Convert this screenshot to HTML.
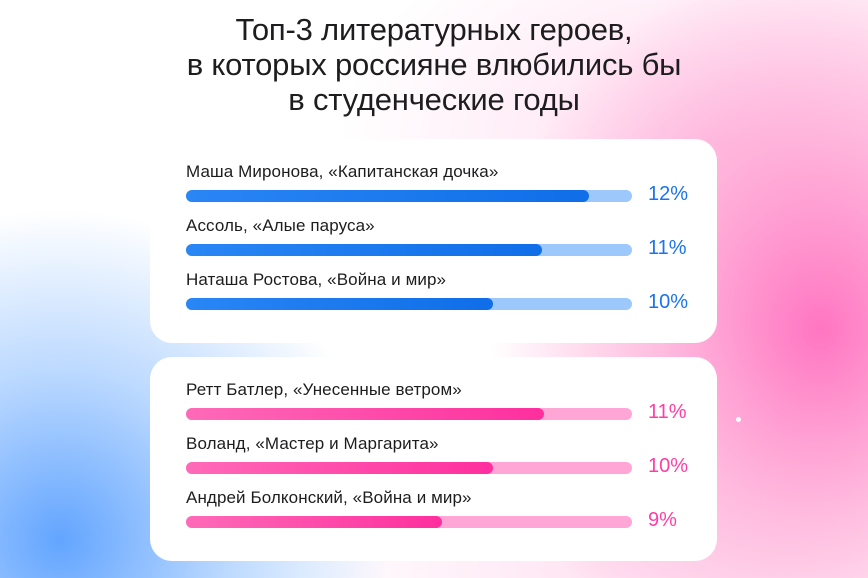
<!DOCTYPE html>
<html><head><meta charset="utf-8"><style>
html,body{margin:0;padding:0}
body{width:868px;height:578px;position:relative;overflow:hidden;font-family:"Liberation Sans","Noto Sans CJK SC",sans-serif;
background:
radial-gradient(ellipse 330px 380px at 820px 330px, rgba(255,110,190,0.95), rgba(255,140,200,0.55) 50%, rgba(255,200,230,0) 100%),
radial-gradient(ellipse 330px 330px at 60px 540px, rgba(90,160,255,0.95), rgba(140,190,255,0.6) 50%, rgba(200,225,255,0) 100%),
radial-gradient(ellipse 380px 240px at 720px 140px, rgba(255,200,230,0.65), rgba(255,255,255,0) 100%),
radial-gradient(ellipse 300px 200px at 600px 560px, rgba(255,200,230,0.5), rgba(255,255,255,0) 100%),
#fff;}
.title{position:absolute;left:0;width:868px;top:12px;text-align:center;font-size:31px;line-height:35px;color:#1d1d1f;letter-spacing:-0.2px}
.card{position:absolute;left:150px;width:567px;height:204px;background:#fff;border-radius:22px}
.lab{position:absolute;left:186px;font-size:17px;color:#1d1d1f;letter-spacing:0.1px}
.track{position:absolute;left:186px;width:446px;height:12px;border-radius:6px}
.fill{position:absolute;left:0;top:0;height:12px;border-radius:6px}
.pct{position:absolute;left:648px;font-size:20px}
.b .track{background:#9cc8fb}.b .fill{background:linear-gradient(90deg,#2a86f5,#0f6ee8)}.b .pct{color:#1a73f0}
.p .track{background:#ffa6d6}.p .fill{background:linear-gradient(90deg,#ff6ab8,#ff2f9e)}.p .pct{color:#ff3ea5}
.dot{position:absolute;left:736px;top:417px;width:5px;height:5px;border-radius:50%;background:#fff}
</style></head><body>
<div class="title">Топ-3 литературных героев,<br>в которых россияне влюбились бы<br>в студенческие годы</div>
<div class="card" style="top:139px"></div>
<div class="card" style="top:357px"></div>
<div class="dot"></div>
<div class="b">
<div class="lab" style="top:162px">Маша Миронова, «Капитанская дочка»</div>
<div class="track" style="top:190px"><div class="fill" style="width:403px"></div></div>
<div class="pct" style="top:183px">12%</div>
<div class="lab" style="top:216px">Ассоль, «Алые паруса»</div>
<div class="track" style="top:244px"><div class="fill" style="width:356px"></div></div>
<div class="pct" style="top:237px">11%</div>
<div class="lab" style="top:270px">Наташа Ростова, «Война и мир»</div>
<div class="track" style="top:298px"><div class="fill" style="width:307px"></div></div>
<div class="pct" style="top:291px">10%</div>
</div>
<div class="p">
<div class="lab" style="top:380px">Ретт Батлер, «Унесенные ветром»</div>
<div class="track" style="top:408px"><div class="fill" style="width:358px"></div></div>
<div class="pct" style="top:401px">11%</div>
<div class="lab" style="top:434px">Воланд, «Мастер и Маргарита»</div>
<div class="track" style="top:462px"><div class="fill" style="width:307px"></div></div>
<div class="pct" style="top:455px">10%</div>
<div class="lab" style="top:488px">Андрей Болконский, «Война и мир»</div>
<div class="track" style="top:516px"><div class="fill" style="width:256px"></div></div>
<div class="pct" style="top:509px">9%</div>
</div>
</body></html>
